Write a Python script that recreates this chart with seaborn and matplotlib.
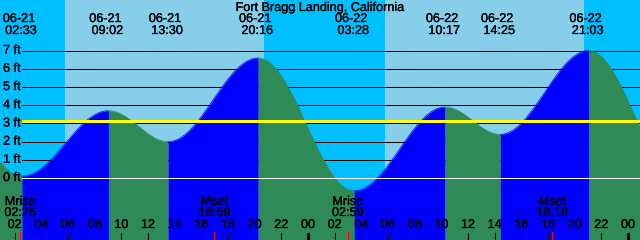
import numpy as np
import pandas as pd
import matplotlib
matplotlib.use("Agg")
import matplotlib.pyplot as plt
import matplotlib.transforms as mtransforms
import matplotlib.patheffects as pe
import seaborn as sns

# ---- data ----
title = "Fort Bragg Landing, California"
tide_times = ["06-20 19:24", "06-21 02:33", "06-21 09:02", "06-21 13:30", "06-21 20:16",
              "06-22 03:28", "06-22 10:17", "06-22 14:25", "06-22 21:03", "06-23 04:20"]
tide_heights = [6.3, 0.1, 3.7, 2.0, 6.6, -0.7, 3.9, 2.4, 7.0, -0.8]
sun_rise = ["06-21 05:47", "06-22 05:47"]
sun_set = ["06-21 20:42", "06-22 20:42"]
moon_events = ["Mrise", "Mset", "Mrise", "Mset"]
moon_times = ["06-21 02:25", "06-21 16:59", "06-22 02:59", "06-22 18:18"]
ft_levels = [0, 1, 2, 3, 4, 5, 6, 7]
hour_labels = ["02", "04", "06", "08", "10", "12", "14", "16", "18", "20", "22", "00"]
mean_level = 3.15

# ---- helpers ----
def to_hours(s):
    md, hm = s.split(" ")
    day = int(md.split("-")[1]) - 21
    h, m = hm.split(":")
    return day * 24 + int(h) + int(m) / 60.0

T = np.array([to_hours(s) for s in tide_times])
H = np.array(tide_heights, dtype=float)

W, Hpx = 640, 240
fig = plt.figure(figsize=(W / 100, Hpx / 100), dpi=100)
ax = fig.add_axes([0, 0, 1, 1])
px_per_h = 40 / 3
x0 = 12 / px_per_h
ax.set_xlim(x0, x0 + 48)
ft_px = 18.19
zero_px = 178.0
ax.set_ylim(-(Hpx - zero_px) / ft_px, zero_px / ft_px)
ax.axis("off")

FONT = ["Liberation Sans", "DejaVu Sans"]
FS = 9.1
TXT = dict(fontsize=FS, family=FONT, color="black", zorder=5,
           path_effects=[pe.withStroke(linewidth=0.2, foreground="black")])
LN = dict(antialiased=False, solid_capstyle="butt")

# backgrounds
night = "#00BFFF"
day = "#87CEEB"
ax.axvspan(x0 - 1, x0 + 49, color=night, lw=0, zorder=0)
for r, s in zip(sun_rise, sun_set):
    ax.axvspan(to_hours(r), to_hours(s), color=day, lw=0, zorder=0.5)

# black grid lines (behind tide fill)
xstart = 22 / W
LW = 0.71
for lv in ft_levels[1:]:
    ax.axhline(lv, xmin=xstart, xmax=1, color="black", lw=LW, zorder=1, **LN)

# tide fill by segment
ybot = ax.get_ylim()[0]
for i in range(len(T) - 1):
    t = np.linspace(T[i], T[i + 1], 300)
    f = (t - T[i]) / (T[i + 1] - T[i])
    h = H[i] + (H[i + 1] - H[i]) * (1 - np.cos(np.pi * f)) / 2
    col = "#0000FF" if H[i + 1] > H[i] else "#2E8B57"
    ax.fill_between(t, ybot - 1, h, color=col, lw=0, zorder=2)
    sns.lineplot(x=t, y=h, ax=ax, color=col, lw=0.5, zorder=2.1, legend=False)

# white zero line and yellow mean line on top
ax.axhline(0, xmin=xstart, xmax=1, color="white", lw=LW, zorder=3, **LN)
ax.axhline(mean_level, xmin=xstart, xmax=1, color="#FFFF00", lw=0.8, zorder=3, **LN)

# y labels
ytr = mtransforms.blended_transform_factory(ax.transAxes, ax.transData)
for lv in ft_levels:
    ax.text(3 / W, lv, f"{lv} ft", transform=ytr, ha="left", va="center", **TXT)

xtr = mtransforms.blended_transform_factory(ax.transData, ax.transAxes)
def ypx(p):
    return 1 - p / Hpx

# title
ax.text(0.5, ypx(8), title, transform=ax.transAxes, ha="center", va="center", **TXT)

# extreme labels (visible ones)
for s, t in zip(tide_times, T):
    if x0 <= t <= x0 + 48:
        md, hm = s.split(" ")
        ax.text(t - 3 / px_per_h, ypx(19), md, transform=xtr, ha="center", va="center", **TXT)
        ax.text(t - 1 / px_per_h, ypx(31), hm, transform=xtr, ha="center", va="center", **TXT)

# moon labels and red ticks
for ev, s in zip(moon_events, moon_times):
    t = to_hours(s)
    ax.text(t, ypx(202), ev, transform=xtr, ha="center", va="center", **TXT)
    ax.text(t, ypx(213), s.split(" ")[1], transform=xtr, ha="center", va="center", **TXT)
    ax.plot([t, t], [ypx(231.5), ypx(241)], transform=xtr, color="red", lw=LW,
            zorder=5, **LN)

# hour ticks
for d in range(2):
    for k, lab in enumerate(hour_labels):
        t = d * 24 + 2 * (k + 1)
        ax.text(t, ypx(225), lab, transform=xtr, ha="center", va="center", **TXT)
        lw = 1.8 if lab == "00" else LW
        ax.plot([t, t], [ypx(233), ypx(241)], transform=xtr, color="black", lw=lw,
                zorder=5, **LN)

fig.savefig("out.png", dpi=100)
